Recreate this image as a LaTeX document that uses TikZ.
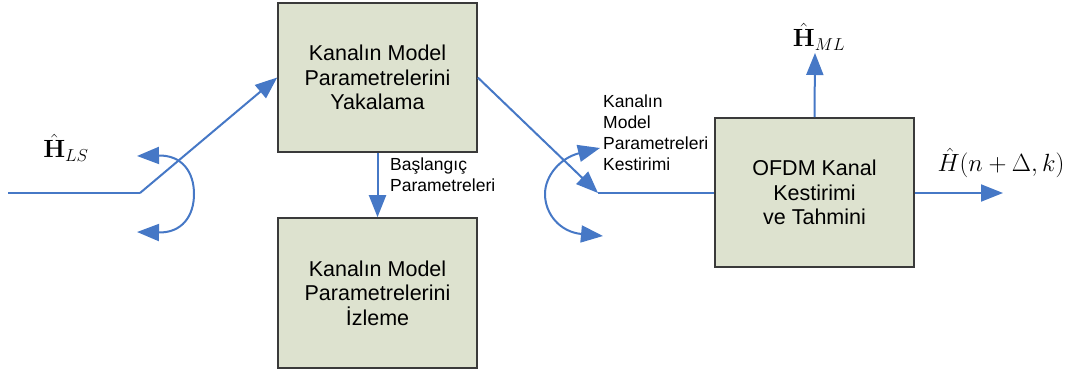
\documentclass[tikz,border=0pt]{standalone}
\usepackage[no-math]{fontspec}
\setmainfont{Liberation Sans}
\usetikzlibrary{arrows.meta}
\definecolor{boxfill}{RGB}{221,226,207}
\definecolor{boxline}{RGB}{58,58,58}
\definecolor{flow}{RGB}{70,120,198}
\tikzset{
  blockbox/.style={draw=boxline, line width=1.6pt, fill=boxfill, align=center,
    font=\fontsize{21.5}{24.5}\selectfont, inner sep=0pt},
  flowline/.style={draw=flow, line width=2pt},
  flowarrow/.style={flowline, -{Triangle[length=22pt,width=17pt]}},
  dblarrow/.style={flowline, {Triangle[length=22pt,width=17pt]}-{Triangle[length=22pt,width=17pt]}},
  smalltext/.style={font=\fontsize{17.5}{21}\selectfont, align=left, inner sep=0pt},
  mathlabel/.style={font=\fontsize{27}{30}\selectfont, inner sep=0pt},
}
\begin{document}
\begin{tikzpicture}[x=1pt,y=-1pt]
\useasboundingbox (0,0) rectangle (1078,372);
% blocks
\node[blockbox, minimum width=199pt, minimum height=149pt] (yak) at (377.5,77.5)
  {Kanalın Model\\Parametrelerini\\Yakalama};
\node[blockbox, minimum width=199pt, minimum height=150pt] (izl) at (377.5,293)
  {Kanalın Model\\Parametrelerini\\İzleme};
\node[blockbox, minimum width=199pt, minimum height=149pt] (ofdm) at (814.5,192.5)
  {OFDM Kanal\\Kestirimi\\ve Tahmini};
% coordinates
\coordinate (inL) at (8,193);
\coordinate (swL) at (140,193);
\coordinate (swR) at (598,193);
\coordinate (outML) at (815,53);
\coordinate (outH) at (1003,193);
% connectors
\draw[flowline] (inL) -- (swL);
\draw[flowarrow] (swL) -- (yak.west);
\draw[flowarrow] (yak.east) -- (swR);
\draw[flowline] (swR) -- (ofdm.west |- swR);
\draw[flowarrow] (yak.south) -- (izl.north);
\draw[flowarrow] (ofdm.north) -- (outML);
\draw[flowarrow] (ofdm.east |- outH) -- (outH);
% switch arcs
\coordinate (aLt) at (137,156);
\coordinate (aLb) at (137,232);
\draw[dblarrow] (aLt) .. controls (182,155) and (194,172) .. (194,194)
  .. controls (194,216) and (182,233) .. (aLb);
\coordinate (aRt) at (600,148);
\coordinate (aRb) at (603,236);
\draw[dblarrow] (aRt) .. controls (560,158) and (545,176) .. (545,194)
  .. controls (545,214) and (560,232) .. (aRb);
% labels
\node[mathlabel] (lLS) at (66,148) {$\hat{\mathbf{H}}_{LS}$};
\node[mathlabel] (lML) at (819,37) {$\hat{\mathbf{H}}_{ML}$};
\node[mathlabel] (lH) at (1001,163) {$\hat{H}(n+\Delta,k)$};
\node[smalltext, anchor=west] (lBas) at (390,175) {Başlangıç\\Parametreleri};
\node[smalltext, anchor=west] (lKes) at (603,133) {Kanalın\\Model\\Parametreleri\\Kestirimi};
\end{tikzpicture}
\end{document}
